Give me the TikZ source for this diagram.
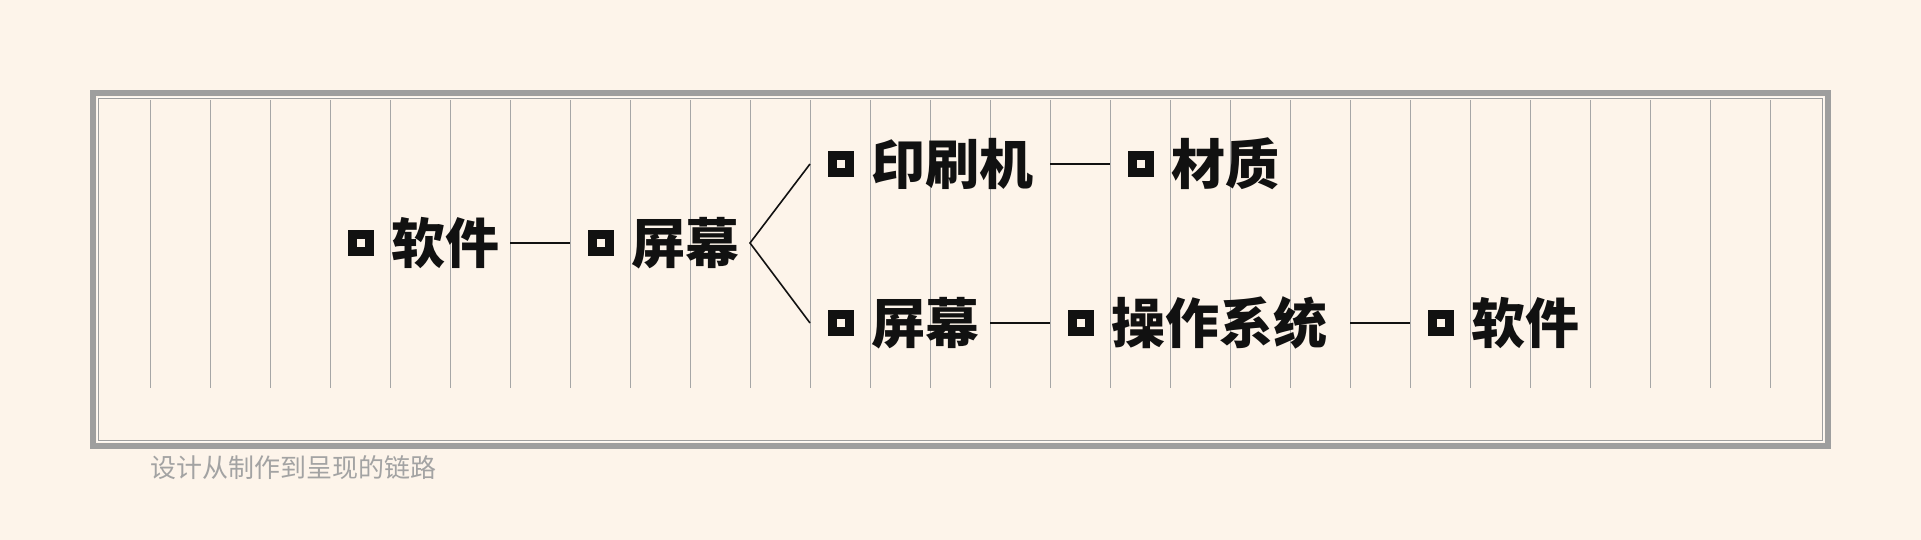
\documentclass[tikz,border=0pt]{standalone}
\usepackage{fontspec}
\newfontfamily\cjk{Noto Sans CJK SC}
\usetikzlibrary{positioning}
\definecolor{paper}{HTML}{FDF4EA}
\definecolor{framegray}{HTML}{9E9E9E}
\definecolor{cellgray}{HTML}{A6A6A6}
\definecolor{ink}{HTML}{111111}
\definecolor{notegray}{HTML}{A3A3A3}

\begin{document}
\begin{tikzpicture}[
  x=1pt, y=-1pt,
  node distance=17.5pt,
  bullet/.style={rectangle, draw=ink, fill=paper, line width=9pt,
                 minimum size=17pt, inner sep=0pt},
  term/.style={inner sep=0pt, text=ink,
               font=\cjk\bfseries\fontsize{54}{54}\selectfont},
  caption/.style={inner sep=0pt, text=notegray, anchor=west,
                  font=\cjk\fontsize{26}{26}\selectfont},
  cellrule/.style={draw=cellgray, line width=1pt},
  link/.style={draw=ink, line width=1.6pt}
]
\fill[paper] (0,0) rectangle (1921,540);
\draw[framegray, line width=6pt] (93,93) rectangle (1828,446);
\draw[white!55!paper, line width=1.3pt] (97.3,97.3) rectangle (1823.7,441.7);
\draw[framegray, line width=1.4pt] (98.7,98.7) rectangle (1822.3,440.3);
\foreach \k in {0,...,27} \coordinate (g\k) at (150+60*\k,100);
\foreach \k in {0,...,27} \draw[cellrule] (g\k) -- ++(0,288);

\node[bullet] (b1) at (360.5,243) {};
\node[term, right=of b1] (soft1) {软件};
\node[bullet] (b2) at (600.5,243) {};
\node[term, right=of b2] (screen1) {屏幕};
\node[bullet] (b3) at (840.5,164) {};
\node[term, right=of b3] (press) {印刷机};
\node[bullet] (b4) at (1140.5,164) {};
\node[term, right=of b4] (stock) {材质};
\node[bullet] (b5) at (840.5,323) {};
\node[term, right=of b5] (screen2) {屏幕};
\node[bullet] (b6) at (1080.5,323) {};
\node[term, right=of b6] (os) {操作系统};
\node[bullet] (b7) at (1440.5,323) {};
\node[term, right=of b7] (soft2) {软件};
\node[caption] (cap) at (150,467.5) {设计从制作到呈现的链路};

\draw[link] (b1 -| g6) -- (b2 -| g7);
\draw[link] (b3 -| g11) -- (b2 -| g10) -- (b5 -| g11);
\draw[link] (b3 -| g15) -- (b4 -| g16);
\draw[link] (b5 -| g14) -- (b6 -| g15);
\draw[link] (b6 -| g20) -- (b7 -| g21);
\end{tikzpicture}
\end{document}
